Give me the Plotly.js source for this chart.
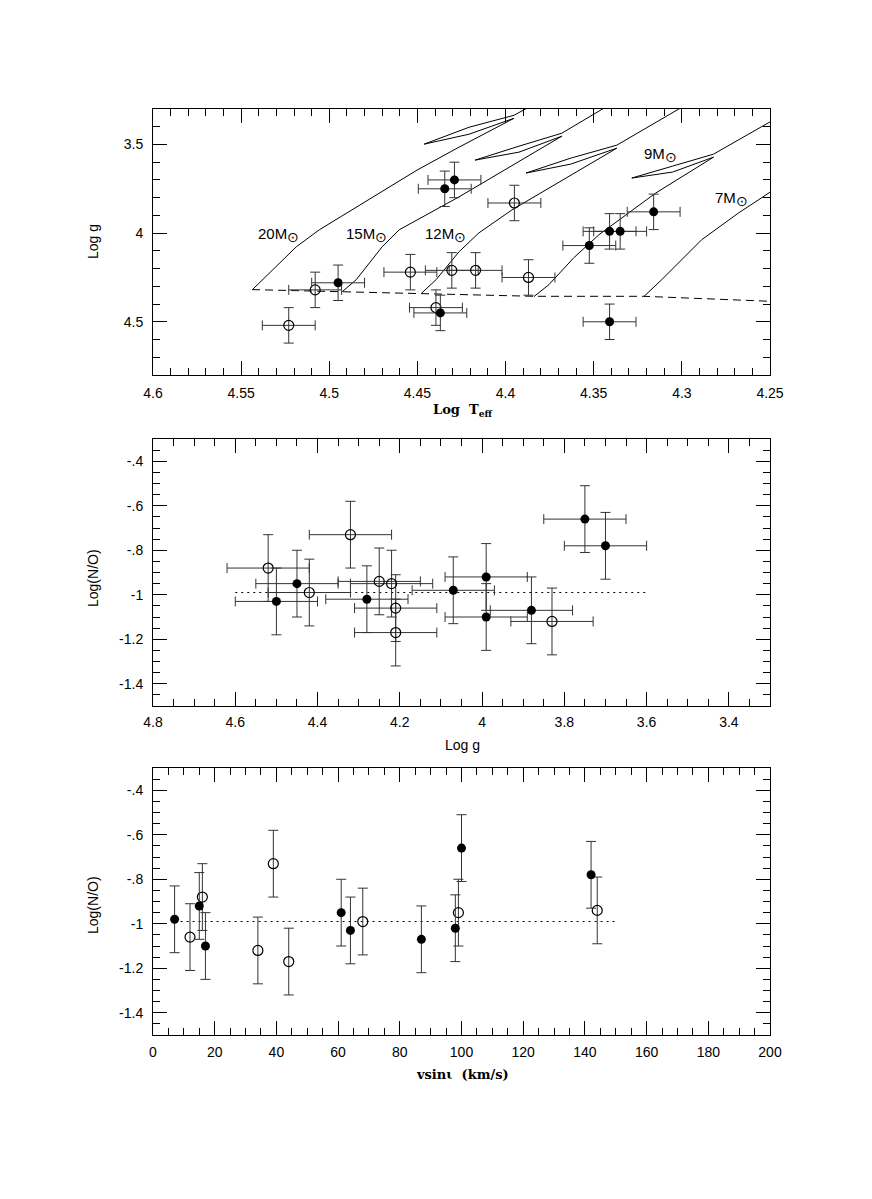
<!DOCTYPE html>
<html>
<head>
<meta charset="utf-8">
<script src="https://cdn.plot.ly/plotly-3.0.1.min.js"></script>
<style>
  html, body { margin: 0; padding: 0; background: #fff; }
  #plotDiv { width: 872px; height: 1199px; }
</style>
</head>
<body>
<div id="plotDiv"></div>
<script>
// ---- values ----

// top panel: Log Teff vs Log g
const teffFilled = [4.495, 4.437, 4.4345, 4.429, 4.3525, 4.341, 4.335, 4.316, 4.341];
const loggFilledTop = [4.28, 4.45, 3.75, 3.70, 4.07, 3.99, 3.99, 3.88, 4.50];
const teffOpen = [4.523, 4.508, 4.454, 4.4305, 4.4395, 4.395, 4.417, 4.387];
const loggOpenTop = [4.52, 4.32, 4.22, 4.21, 4.42, 3.83, 4.21, 4.25];
const teffErr = 0.015;
const loggErr = 0.1;

// evolutionary tracks: main sequence, hook (narrow wedge), then on past the frame
const track20T = [4.5436, 4.5187, 4.5057, 4.4502, 4.4264, 4.3952, 4.4207, 4.4462, 4.4207, 4.3952, 4.3839];
const track20G = [4.3185, 4.0770, 3.9815, 3.6444, 3.5152, 3.3522, 3.4421, 3.4983, 3.4028, 3.3354, 3.2736];
const track15T = [4.4926, 4.4847, 4.4700, 4.4604, 4.4264, 4.3681, 4.3924, 4.4173, 4.3924, 4.3681, 4.3415];
const track15G = [4.3298, 4.2624, 4.0770, 3.9815, 3.7955, 3.4534, 3.5433, 3.5882, 3.5096, 3.4365, 3.2792];
const track12T = [4.4479, 4.4394, 4.4264, 4.4151, 4.3964, 4.3669, 4.3369, 4.3630, 4.3884, 4.3630, 4.3369, 4.2962];
const track12G = [4.3410, 4.2624, 4.1051, 3.9983, 3.8691, 3.6949, 3.5208, 3.6107, 3.6612, 3.5770, 3.5039, 3.2680];
const track9T = [4.3839, 4.3754, 4.3613, 4.3471, 4.3148, 4.2820, 4.3052, 4.3284, 4.3052, 4.2820, 4.2395];
const track9G = [4.3579, 4.2904, 4.1388, 4.0096, 3.7736, 3.5713, 3.6556, 3.6893, 3.6219, 3.5545, 3.3129];
const track7T = [4.3216, 4.3114, 4.2888, 4.2678, 4.2395];
const track7G = [4.3579, 4.2624, 4.0376, 3.8860, 3.7006];
const zamsT = [4.5438, 4.4926, 4.4481, 4.3839, 4.3216, 4.25];
const zamsG = [4.3185, 4.3315, 4.3427, 4.3562, 4.3562, 4.3843];

const sun = '<sub><span style="font-size:14px">⊙</span></sub>';
const trackLabels = ['20M' + sun, '15M' + sun, '12M' + sun, '9M' + sun, '7M' + sun];
const trackLabelT = [4.529, 4.479, 4.434, 4.312, 4.272];
const trackLabelG = [4.01, 4.01, 4.01, 3.56, 3.81];

// middle panel: Log g vs Log(N/O)
const loggFilledMid = [4.50, 4.45, 4.28, 4.07, 3.99, 3.99, 3.88, 3.75, 3.70];
const noFilledMid = [-1.03, -0.95, -1.02, -0.98, -0.92, -1.10, -1.07, -0.66, -0.78];
const loggOpenMid = [4.52, 4.42, 4.32, 4.25, 4.22, 4.21, 4.21, 3.83];
const noOpenMid = [-0.88, -0.99, -0.73, -0.94, -0.95, -1.06, -1.17, -1.12];
const noErr = 0.15;
const refLoggX = [4.6, 3.6];

// bottom panel: vsini vs Log(N/O)
const vsiniFilled = [7, 15, 17, 61, 64, 87, 98, 100, 142];
const noFilledBot = [-0.98, -0.92, -1.10, -0.95, -1.03, -1.07, -1.02, -0.66, -0.78];
const vsiniOpen = [12, 16, 34, 39, 44, 68, 99, 144];
const noOpenBot = [-1.06, -0.88, -1.12, -0.73, -1.17, -0.99, -0.95, -0.94];
const refVsiniX = [7, 150];
const refNO = -0.99;

const noTickVals = [-1.4, -1.2, -1, -0.8, -0.6, -0.4];
const noTickText = ['-1.4', '-1.2', '-1', '-.8', '-.6', '-.4'];

// ---- page geometry (pixels of the 872x1199 page) ----
const W = 872, H = 1199;
const plotLeft = 153, plotRight = 770;
const panels = [[109, 375], [439, 706], [768, 1035]];

function domX() { return [plotLeft / W, plotRight / W]; }
function domY(p) { return [1 - p[1] / H, 1 - p[0] / H]; }

const tickFont = {family: 'Liberation Sans, Arial, sans-serif', size: 14, color: '#000'};
const errColor = '#333';

function makeAxis(extra, minorDtick, minorTick0) {
    const ax = {
        showline: true, linecolor: '#000', linewidth: 1, mirror: 'allticks',
        ticks: 'inside', ticklen: 14, tickwidth: 1, tickcolor: '#000',
        showgrid: false, zeroline: false, tickfont: tickFont,
        minor: {ticks: 'inside', ticklen: 7, tickwidth: 1, tickcolor: '#000',
                showgrid: false, tickmode: 'linear', dtick: minorDtick, tick0: minorTick0}
    };
    return Object.assign(ax, extra);
}

function lineTrace(x, y, xa, ya, dash) {
    return {x: x, y: y, xaxis: xa, yaxis: ya, mode: 'lines', hoverinfo: 'skip',
            line: {color: '#000', width: 1, dash: dash || 'solid'}};
}

function pointTrace(x, y, xa, ya, filled, xerr, yerr) {
    const t = {
        x: x, y: y, xaxis: xa, yaxis: ya, mode: 'markers',
        marker: filled
            ? {symbol: 'circle', size: 9, color: '#000'}
            : {symbol: 'circle-open', size: 10, color: '#000', line: {width: 1.2}},
        error_y: {type: 'constant', value: yerr, thickness: 1, width: 5, color: errColor}
    };
    if (xerr) {
        t.error_x = {type: 'constant', value: xerr, thickness: 1, width: 5, color: errColor};
    }
    return t;
}

const traces = [
    // top panel
    lineTrace(track20T, track20G, 'x', 'y'),
    lineTrace(track15T, track15G, 'x', 'y'),
    lineTrace(track12T, track12G, 'x', 'y'),
    lineTrace(track9T, track9G, 'x', 'y'),
    lineTrace(track7T, track7G, 'x', 'y'),
    lineTrace(zamsT, zamsG, 'x', 'y', '8px,5px'),
    pointTrace(teffOpen, loggOpenTop, 'x', 'y', false, teffErr, loggErr),
    pointTrace(teffFilled, loggFilledTop, 'x', 'y', true, teffErr, loggErr),
    // middle panel
    lineTrace(refLoggX, refLoggX.map(() => refNO), 'x2', 'y2', '2px,4px'),
    pointTrace(loggOpenMid, noOpenMid, 'x2', 'y2', false, loggErr, noErr),
    pointTrace(loggFilledMid, noFilledMid, 'x2', 'y2', true, loggErr, noErr),
    // bottom panel
    lineTrace(refVsiniX, refVsiniX.map(() => refNO), 'x3', 'y3', '2px,4px'),
    pointTrace(vsiniOpen, noOpenBot, 'x3', 'y3', false, 0, noErr),
    pointTrace(vsiniFilled, noFilledBot, 'x3', 'y3', true, 0, noErr)
];

const annotations = [];
function addTitle(text, xPx, yPx, angle, font) {
    annotations.push({text: text, xref: 'paper', yref: 'paper', x: xPx / W, y: 1 - yPx / H,
                      xanchor: 'center', yanchor: 'middle', showarrow: false,
                      textangle: angle || 0, font: font});
}
const serifBold = {family: 'DejaVu Serif, Liberation Serif, serif', size: 13, color: '#000', weight: 'bold'};
const sansTitle = {family: 'Liberation Sans, Arial, sans-serif', size: 14, color: '#000'};

addTitle('<b>Log  T<sub>eff</sub></b>', 462, 410, 0, serifBold);
addTitle('Log g', 462, 745, 0, sansTitle);
addTitle('<b>vsin\u03b9  (km/s)</b>', 462, 1074, 0, serifBold);
addTitle('Log g', 93, 242, -90, sansTitle);
addTitle('Log(N/O)', 93, 578, -90, sansTitle);
addTitle('Log(N/O)', 93, 905, -90, sansTitle);

trackLabels.forEach((lab, i) => {
    annotations.push({text: lab, xref: 'x', yref: 'y', x: trackLabelT[i], y: trackLabelG[i],
                      showarrow: false, xanchor: 'center', yanchor: 'middle',
                      font: {family: 'Liberation Sans, Arial, sans-serif', size: 15, color: '#000'}});
});

const layout = {
    width: W, height: H,
    margin: {l: 0, r: 0, t: 0, b: 0},
    paper_bgcolor: '#fff', plot_bgcolor: '#fff',
    showlegend: false,
    annotations: annotations,
    xaxis: makeAxis({domain: domX(), anchor: 'y', range: [4.6, 4.25], ticklabelstandoff: 5,
                     tickmode: 'linear', tick0: 4.25, dtick: 0.05}, 0.01, 4.25),
    yaxis: makeAxis({domain: domY(panels[0]), anchor: 'x', range: [4.8, 3.3], ticklabelstandoff: 6,
                     tickmode: 'linear', tick0: 3.5, dtick: 0.5}, 0.1, 3.5),
    xaxis2: makeAxis({domain: domX(), anchor: 'y2', range: [4.8, 3.3], ticklabelstandoff: 3,
                      tickmode: 'linear', tick0: 4.8, dtick: 0.2}, 0.05, 4.8),
    yaxis2: makeAxis({domain: domY(panels[1]), anchor: 'x2', range: [-1.5, -0.3], ticklabelstandoff: 6,
                      tickmode: 'array', tickvals: noTickVals, ticktext: noTickText}, 0.05, -1.5),
    xaxis3: makeAxis({domain: domX(), anchor: 'y3', range: [0, 200], ticklabelstandoff: 4,
                      tickmode: 'linear', tick0: 0, dtick: 20}, 5, 0),
    yaxis3: makeAxis({domain: domY(panels[2]), anchor: 'x3', range: [-1.5, -0.3], ticklabelstandoff: 6,
                      tickmode: 'array', tickvals: noTickVals, ticktext: noTickText}, 0.05, -1.5)
};

Plotly.newPlot('plotDiv', traces, layout, {displayModeBar: false, staticPlot: true});
</script>
</body>
</html>
